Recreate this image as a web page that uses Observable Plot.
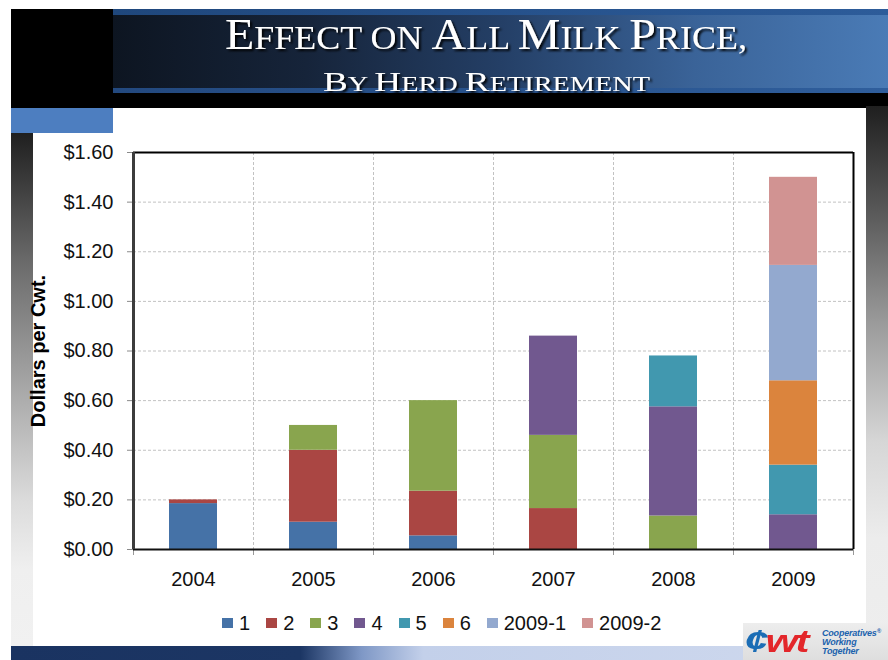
<!DOCTYPE html>
<html>
<head>
<meta charset="utf-8">
<script src="https://cdn.jsdelivr.net/npm/d3@7"></script>
<script src="https://cdn.jsdelivr.net/npm/@observablehq/plot@0.6"></script>
<style>
  html, body { margin: 0; padding: 0; background: #fff; }
  #slide { position: relative; width: 888px; height: 660px; overflow: hidden; background: #fff;
           font-family: "Liberation Sans", Arial, sans-serif; }
  .blk { position: absolute; }
  #topBlack { left: 11px; top: 9px; width: 877px; height: 99px; background: #000; }
  #banner { left: 113px; top: 9px; width: 775px; height: 84px;
            background: linear-gradient(to right, #0d1521 0%, #16243a 25%, #243f66 50%, #3a6398 75%, #4a7bb6 100%); }
  #bannerTop { left: 113px; top: 9px; width: 775px; height: 6px;
               background: linear-gradient(to right, #1f477c, #2d5c9a); }
  #bannerBottom { left: 113px; top: 88px; width: 775px; height: 5px;
                  background: linear-gradient(to right, #23497f, #2f5e9c); }
  #blueBlock { left: 11px; top: 108px; width: 102px; height: 25px; background: #4d7ec0; }
  #leftStrip { left: 11px; top: 133px; width: 22px; height: 513px;
               background: linear-gradient(#1f1f1f 0%, #6a6a6a 25%, #a8a8a8 50%, #dcdcdc 72%, #efefef 85%, #f1f1f1 100%); }
  #rightStrip { left: 866px; top: 106px; width: 22px; height: 540px;
                background: linear-gradient(#1f1f1f 0%, #5a5a5a 20%, #9a9a9a 40%, #d6d6d6 62%, #ececec 80%, #eeeeee 100%); }
  #bottomBand { left: 11px; top: 646px; width: 877px; height: 14px;
                background: linear-gradient(to right, #1a3361 0%, #1c3664 33%, #7f98c6 40%, #c3d0ea 47%, #cfd9ee 100%); }
  #chart { left: 33px; top: 133px; }
  #chart g[aria-label="y-axis tick"] { stroke: #8a8a8a; }
  #legend { left: 222px; top: 612px; height: 22px; display: flex; align-items: center;
            font-size: 20px; color: #111; white-space: nowrap; }
  #legend .item { display: flex; align-items: center; margin-right: 16px; }
  #legend .sw { width: 11px; height: 10px; margin-right: 6px; }
  #logo { left: 743px; top: 623px; width: 145px; height: 37px;
          background: linear-gradient(#ededed, #dedede); }
  #logo .mark { position: absolute; left: 2px; top: 0px; height: 37px; line-height: 37px; font-size: 31px;
                font-weight: bold; font-style: italic; letter-spacing: -2px; white-space: nowrap;
                transform: scale(1.35, 1); transform-origin: left center;
                font-family: "Liberation Sans", Arial, sans-serif; }
  #logo .c { color: #1b6db5; }
  #logo .wt { color: #e3262a; }
  #logo .words { position: absolute; left: 79px; top: 4px; font-size: 9px; line-height: 9px;
                 font-weight: bold; font-style: italic; color: #1b62ad; white-space: nowrap; letter-spacing: -0.2px; }
  #logo .words sup { font-size: 6px; vertical-align: 3px; }
</style>
</head>
<body>
<div id="slide">
  <div class="blk" id="topBlack"></div>
  <div class="blk" id="banner"></div>
  <div class="blk" id="bannerTop"></div>
  <div class="blk" id="bannerBottom"></div>
  <div class="blk" id="blueBlock"></div>
  <div class="blk" id="leftStrip"></div>
  <div class="blk" id="rightStrip"></div>
  <svg class="blk" id="title" width="888" height="108" style="left:0;top:0">
    <defs>
      <filter id="shadow" x="-5%" y="-30%" width="110%" height="160%">
        <feDropShadow dx="2" dy="2" stdDeviation="1.2" flood-color="#000" flood-opacity="0.95"/>
      </filter>
    </defs>
    <g fill="#fff" font-family="'Liberation Serif', 'Times New Roman', serif" filter="url(#shadow)" style="white-space:pre">
      <text x="486" y="49" text-anchor="middle" textLength="522" lengthAdjust="spacingAndGlyphs"><tspan font-size="44">E</tspan><tspan font-size="33">FFECT ON </tspan><tspan font-size="44">A</tspan><tspan font-size="33">LL </tspan><tspan font-size="44">M</tspan><tspan font-size="33">ILK </tspan><tspan font-size="44">P</tspan><tspan font-size="33">RICE,</tspan></text>
      <text x="486.5" y="90.5" text-anchor="middle" textLength="327" lengthAdjust="spacingAndGlyphs"><tspan font-size="27">B</tspan><tspan font-size="20.5">Y </tspan><tspan font-size="27">H</tspan><tspan font-size="20.5">ERD </tspan><tspan font-size="27">R</tspan><tspan font-size="20.5">ETIREMENT</tspan></text>
    </g>
  </svg>
  <div class="blk" id="chart"></div>
  <div class="blk" id="legend"></div>
  <div class="blk" id="bottomBand"></div>
  <div class="blk" id="logo">
    <div class="mark"><span class="c">¢</span><span class="wt">wt</span></div>
    <div class="words">Cooperatives<sup>®</sup><br>Working<br>Together</div>
  </div>
</div>
<script>
// Years on the x axis and the herd-retirement rounds stacked in each bar
const years = ["2004", "2005", "2006", "2007", "2008", "2009"];
const seriesNames = ["1", "2", "3", "4", "5", "6", "2009-1", "2009-2"];
const seriesColors = ["#4572A7", "#AA4643", "#89A54E", "#71588F", "#4198AF", "#DB843D", "#93A9CF", "#D19392"];

// Effect on the all-milk price, dollars per cwt, by round and year
const round1 = [0.185, 0.11, 0.055, 0, 0, 0];
const round2 = [0.015, 0.29, 0.18, 0.165, 0, 0];
const round3 = [0, 0.10, 0.365, 0.295, 0.135, 0];
const round4 = [0, 0, 0, 0.40, 0.44, 0.14];
const round5 = [0, 0, 0, 0, 0.205, 0.20];
const round6 = [0, 0, 0, 0, 0, 0.34];
const round2009a = [0, 0, 0, 0, 0, 0.465];
const round2009b = [0, 0, 0, 0, 0, 0.355];

const yTicks = [0, 0.2, 0.4, 0.6, 0.8, 1.0, 1.2, 1.4, 1.6];
const yTitle = "Dollars per Cwt.";

const seriesValues = [round1, round2, round3, round4, round5, round6, round2009a, round2009b];
const rows = [];
seriesNames.forEach((name, k) => {
  years.forEach((year, i) => {
    const v = seriesValues[k][i];
    if (v > 0) rows.push({year, series: name, value: v});
  });
});

// Chart geometry
const width = 833, height = 470;
const marginLeft = 100, marginRight = 13, marginTop = 19, marginBottom = 54;
const padInner = 0.6, padOuter = 0.3;
const step = (width - marginLeft - marginRight) / (years.length - padInner + 2 * padOuter);
const half = step / 2;

const gridStyle = {stroke: "#c2c2c2", strokeDasharray: "3,2"};

const chart = Plot.plot({
  width, height, marginLeft, marginRight, marginTop, marginBottom,
  style: {fontSize: "20px", fontFamily: "'Liberation Sans', Arial, sans-serif", color: "#111",
          background: "transparent", overflow: "visible"},
  x: {type: "band", domain: years, paddingInner: padInner, paddingOuter: padOuter,
      label: null, tickSize: 0, tickPadding: 22},
  y: {domain: [yTicks[0], yTicks[yTicks.length - 1]], ticks: yTicks, tickFormat: d3.format("$.2f"),
      label: null, tickSize: 6, tickPadding: 14},
  color: {domain: seriesNames, range: seriesColors},
  marks: [
    // dashed grid
    Plot.ruleY(yTicks.slice(1, -1), gridStyle),
    Plot.ruleX(years.slice(1), {x: d => d, dx: -half, ...gridStyle}),
    // stacked bars
    Plot.barY(rows, {x: "year", y: "value", fill: "series"}),
    // category boundary ticks under the axis
    Plot.ruleX(years, {x: d => d, dx: -half, y1: 0, y2: 0, insetBottom: -6, stroke: "#999"}),
    Plot.ruleX(years.slice(-1), {x: d => d, dx: half, y1: 0, y2: 0, insetBottom: -6, stroke: "#999"}),
    // plot frame
    Plot.ruleY([yTicks[yTicks.length - 1]], {stroke: "#000", strokeWidth: 2}),
    Plot.ruleY([0], {stroke: "#111", strokeWidth: 2}),
    Plot.ruleX(years.slice(-1), {x: d => d, dx: half, stroke: "#000", strokeWidth: 2}),
    Plot.ruleX(years.slice(0, 1), {x: d => d, dx: -half, stroke: "#3c3c3c", strokeWidth: 3}),
    // y axis title
    Plot.text([yTitle], {frameAnchor: "left", textAnchor: "middle", dx: -95, rotate: -90,
                         fontWeight: "bold", fontSize: 20, fill: "#000"})
  ]
});
document.getElementById("chart").appendChild(chart);

// legend
const legend = document.getElementById("legend");
seriesNames.forEach((name, k) => {
  const item = document.createElement("div");
  item.className = "item";
  const sw = document.createElement("div");
  sw.className = "sw";
  sw.style.background = seriesColors[k];
  const label = document.createElement("span");
  label.textContent = name;
  item.appendChild(sw);
  item.appendChild(label);
  legend.appendChild(item);
});
</script>
</body>
</html>
